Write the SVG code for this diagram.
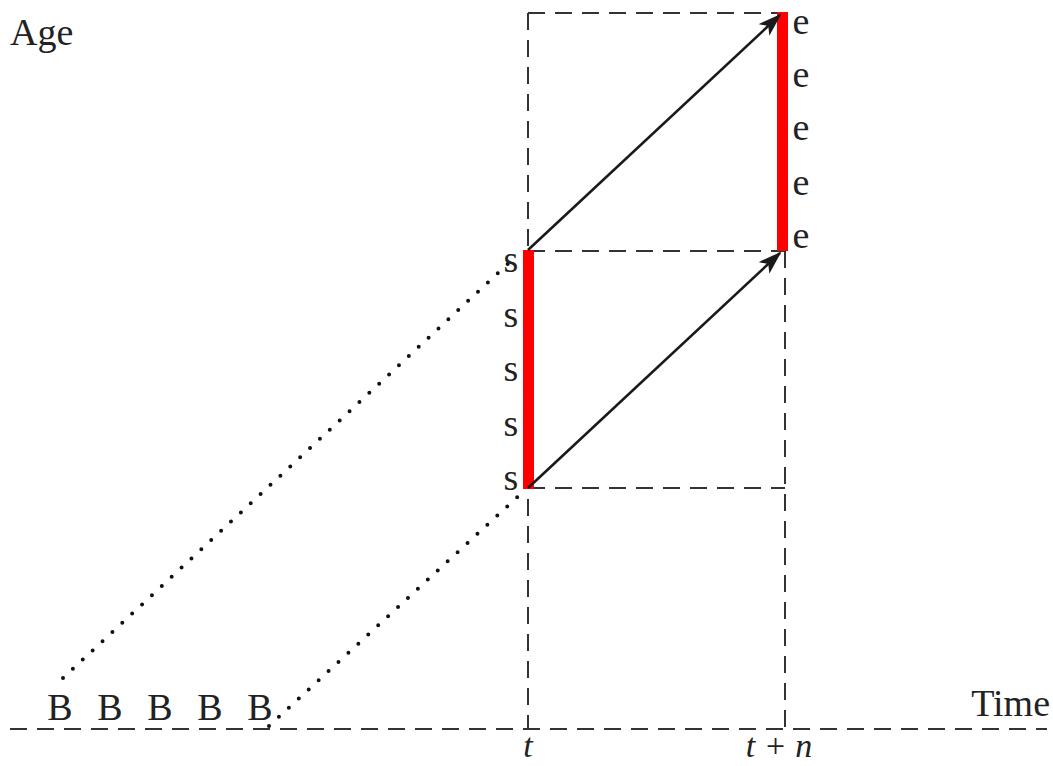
<svg xmlns="http://www.w3.org/2000/svg" width="1053" height="766" viewBox="0 0 1053 766">
<style>
.dash{stroke:#333;stroke-width:2;stroke-dasharray:17 10;fill:none}
.dot{stroke:#111;stroke-width:4;stroke-linecap:round;stroke-dasharray:0 13.5;fill:none}
.arr{stroke:#1a1a1a;stroke-width:2.6;fill:none;marker-end:url(#ah)}
.red{fill:#ff0000}
text{font-family:"Liberation Serif","Times New Roman",serif;fill:#222}
.lab{font-size:38px}
.it{font-style:italic;font-size:34px}
</style>
<defs>
<marker id="ah" viewBox="0 0 24 16" refX="22" refY="8" markerWidth="24" markerHeight="16" markerUnits="userSpaceOnUse" orient="auto">
<path d="M0,0 L24,8 L0,16 L6,8 Z" fill="#1a1a1a"/>
</marker>
</defs>
<g id="grid">
<line class="dash" x1="10" y1="729" x2="1047" y2="729"/>
<line class="dash" x1="528" y1="13" x2="778" y2="13"/>
<line class="dash" x1="528" y1="13" x2="528" y2="729"/>
<line class="dash" x1="528" y1="251" x2="785" y2="251"/>
<line class="dash" x1="528" y1="488" x2="785" y2="488"/>
<line class="dash" x1="785" y1="251" x2="785" y2="729"/>
</g>
<g id="bars">
<rect class="red" x="523" y="250" width="11" height="239"/>
<rect class="red" x="777" y="12" width="11" height="239"/>
</g>
<g id="connectors">
<line class="arr" x1="528" y1="250" x2="780" y2="15"/>
<line class="arr" x1="528" y1="488" x2="780" y2="253"/>
<line class="dot" x1="63" y1="678" x2="512" y2="260"/>
<line class="dot" x1="269" y1="726" x2="525" y2="490"/>
</g>
<g id="labels">
<text x="10" y="45" class="lab">Age</text>
<text x="1050" y="716" class="lab" text-anchor="end">Time</text>
<g id="s-labels" class="lab" text-anchor="middle">
<text x="511" y="272">s</text>
<text x="511" y="327">s</text>
<text x="511" y="381">s</text>
<text x="511" y="436">s</text>
<text x="511" y="490">s</text>
</g>
<g id="e-labels" class="lab" text-anchor="middle">
<text x="801" y="34">e</text>
<text x="801" y="87">e</text>
<text x="801" y="140">e</text>
<text x="801" y="195">e</text>
<text x="801" y="248">e</text>
</g>
<g id="b-labels" class="lab" text-anchor="middle">
<text x="60" y="720">B</text>
<text x="110" y="720">B</text>
<text x="160" y="720">B</text>
<text x="210" y="720">B</text>
<text x="260" y="720">B</text>
</g>
<text x="528" y="757" class="it" text-anchor="middle">t</text>
<text x="779" y="757" class="it" text-anchor="middle">t + n</text>
</g>
</svg>
